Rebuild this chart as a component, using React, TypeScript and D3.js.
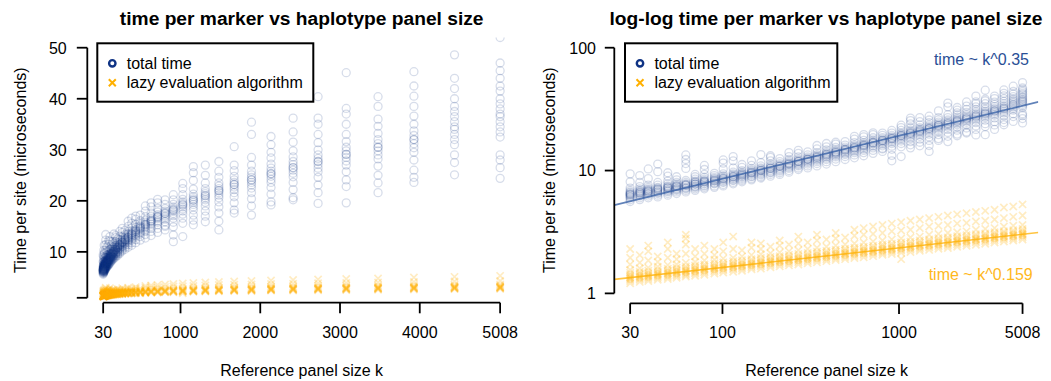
import React from "react";
import * as d3 from "d3";

// Reference panel sizes k (columns of replicate measurements)
const panelSizes = [
  30, 34, 38, 43, 49, 55, 62, 70, 79, 90, 101, 115, 129, 146, 165, 187, 211, 238, 269, 304, 343, 388,
  438, 495, 559, 631, 713, 806, 910, 1028, 1161, 1311, 1481, 1673, 1890, 2135, 2412, 2725, 3078, 3477,
  3927, 4436, 5008,
];

// Total time per site (microseconds), replicates per panel size
const totalTime: number[][] = [
  [6.1, 6.2, 6.3, 6.4, 6.4, 6.5, 6.6, 6.7, 6.0, 5.8, 5.6, 6.9, 7.2, 8.1, 9.4],
  [6.3, 6.4, 6.5, 6.6, 6.6, 6.7, 6.8, 6.9, 6.2, 6.0, 5.8, 7.1, 7.4, 8.0, 9.1],
  [6.5, 6.6, 6.7, 6.8, 6.8, 6.9, 7.0, 7.1, 6.4, 6.2, 6.0, 7.3, 7.6, 8.6, 10.3],
  [6.6, 6.7, 6.8, 7.0, 7.0, 7.1, 7.2, 7.3, 6.5, 6.3, 6.1, 7.6, 8.0, 9.8, 11.3],
  [6.8, 6.9, 7.0, 7.2, 7.2, 7.3, 7.4, 7.5, 6.7, 6.5, 6.3, 7.8, 8.2, 9.0, 9.6],
  [7.0, 7.1, 7.2, 7.4, 7.4, 7.5, 7.6, 7.8, 6.9, 6.7, 6.5, 8.0, 8.4, 8.9],
  [7.2, 7.3, 7.5, 7.6, 7.6, 7.7, 7.8, 8.0, 7.1, 6.9, 6.7, 8.3, 10.4, 11.4, 12.3, 13.4],
  [7.4, 7.5, 7.7, 7.8, 7.8, 8.0, 8.1, 8.2, 7.3, 7.1, 6.9, 8.5, 8.9, 9.3],
  [7.6, 7.8, 7.9, 8.1, 8.1, 8.2, 8.3, 8.5, 7.5, 7.3, 7.1, 8.8, 9.3, 10.2, 11.0],
  [7.9, 8.0, 8.2, 8.3, 8.3, 8.5, 8.6, 8.8, 7.8, 7.5, 7.3, 9.1, 9.5],
  [8.1, 8.3, 8.4, 8.6, 8.6, 8.7, 8.9, 9.1, 8.0, 7.7, 7.5, 9.4, 10.3, 11.5, 12.2],
  [8.4, 8.6, 8.7, 8.9, 8.9, 9.0, 9.2, 9.4, 8.3, 8.0, 7.8, 9.7, 10.5, 12.0, 13.0],
  [8.7, 8.9, 9.0, 9.2, 9.2, 9.4, 9.5, 9.7, 8.5, 8.3, 8.1, 10.0, 10.6, 11.2],
  [9.0, 9.2, 9.4, 9.6, 9.6, 9.7, 9.9, 10.1, 8.9, 8.6, 8.4, 10.4, 11.0, 12.0],
  [9.4, 9.6, 9.8, 10.0, 10.0, 10.1, 10.3, 10.5, 9.2, 8.9, 8.7, 10.9, 11.6, 13.5],
  [9.7, 9.9, 10.1, 10.4, 10.4, 10.5, 10.7, 10.9, 9.6, 9.3, 9.0, 11.3, 12.0, 12.8, 13.2],
  [10.1, 10.3, 10.5, 10.8, 10.8, 10.9, 11.1, 11.4, 9.9, 9.6, 9.3, 11.8, 12.5],
  [10.6, 10.8, 11.0, 11.3, 11.3, 11.4, 11.6, 11.9, 10.4, 10.0, 9.7, 12.3, 13.0, 14.0],
  [11.1, 11.3, 11.5, 11.8, 11.8, 11.9, 12.1, 12.4, 10.9, 10.5, 10.2, 12.9, 13.8, 14.6],
  [11.6, 11.8, 12.0, 12.3, 12.3, 12.4, 12.6, 12.9, 11.3, 10.9, 10.5, 13.4, 14.2],
  [12.1, 12.3, 12.5, 12.8, 12.8, 13.0, 13.2, 13.5, 11.8, 11.4, 10.9, 14.0, 15.0, 16.0],
  [12.6, 12.9, 13.1, 13.4, 13.4, 13.6, 13.8, 14.1, 12.3, 11.8, 11.3, 14.7, 15.6, 16.6],
  [13.2, 13.5, 13.7, 14.0, 14.0, 14.2, 14.4, 14.8, 12.9, 12.4, 11.8, 15.4, 16.4, 17.0],
  [13.8, 14.1, 14.4, 14.7, 14.7, 14.9, 15.1, 15.5, 13.5, 13.0, 12.3, 16.1, 17.2],
  [14.4, 14.7, 15.0, 15.3, 15.3, 15.5, 15.8, 16.2, 14.0, 13.4, 12.7, 16.9, 18.0, 19.0],
  [15.0, 15.4, 15.7, 16.0, 16.0, 16.2, 16.5, 16.9, 14.6, 14.0, 13.2, 17.6, 18.8, 19.6],
  [15.8, 16.1, 16.5, 16.8, 16.8, 17.0, 17.3, 17.8, 15.3, 14.6, 13.8, 18.5, 19.6, 20.3],
  [16.4, 16.8, 17.1, 17.5, 17.5, 17.7, 18.0, 18.5, 15.9, 15.2, 14.3, 19.3, 20.2, 15.0],
  [17.1, 17.5, 17.9, 18.2, 18.2, 18.5, 18.8, 19.3, 16.6, 15.8, 14.9, 20.2, 21.2, 12.0, 13.3],
  [18.0, 18.4, 18.8, 19.2, 19.2, 19.5, 19.8, 20.3, 17.4, 16.6, 15.6, 21.2, 22.4, 23.4, 13.0],
  [18.8, 19.3, 19.7, 20.1, 20.1, 20.4, 20.8, 21.3, 18.2, 17.2, 16.2, 22.3, 24.0, 25.5, 26.7, 15.3],
  [19.7, 20.2, 20.6, 21.0, 21.0, 21.4, 21.8, 22.4, 19.0, 18.0, 17.0, 23.5, 25.0, 27.0, 15.9],
  [20.6, 21.1, 21.6, 22.0, 22.0, 22.4, 22.9, 23.5, 19.8, 18.8, 17.6, 24.6, 25.8, 27.7, 14.3, 16.0],
  [21.6, 22.2, 22.7, 23.2, 23.2, 23.6, 24.1, 24.8, 20.8, 19.6, 18.2, 25.9, 27.0, 30.6, 17.6],
  [22.5, 23.1, 23.6, 24.1, 24.1, 24.6, 25.1, 25.8, 21.6, 20.4, 19.0, 27.0, 28.5, 33.0, 35.4, 17.2],
  [23.6, 24.2, 24.8, 25.3, 25.3, 25.8, 26.4, 27.2, 22.6, 21.3, 19.8, 28.4, 29.5, 31.0, 32.6, 19.2],
  [24.7, 25.4, 26.0, 26.5, 26.5, 27.1, 27.7, 28.6, 23.6, 22.2, 20.6, 29.8, 31.5, 33.5, 36.2, 20.2],
  [25.7, 26.4, 27.1, 27.7, 27.7, 28.3, 29.0, 30.0, 24.6, 23.1, 21.6, 31.4, 33.0, 35.0, 36.2, 40.4, 19.5],
  [27.0, 27.8, 28.5, 29.1, 29.1, 29.8, 30.5, 31.6, 25.7, 24.1, 22.8, 33.0, 35.0, 37.0, 38.1, 45.1, 19.6],
  [28.2, 29.0, 29.8, 30.5, 30.5, 31.2, 32.0, 33.2, 26.8, 25.0, 23.5, 34.6, 36.0, 38.5, 40.4, 21.6],
  [29.5, 30.4, 31.2, 32.0, 32.0, 32.8, 33.7, 35.0, 28.0, 26.0, 24.6, 36.6, 38.5, 40.5, 42.5, 45.3, 23.6],
  [31.0, 32.0, 33.0, 34.0, 34.5, 35.5, 36.5, 37.5, 38.5, 40.0, 29.0, 27.5, 25.1, 42.0, 44.0, 48.6],
  [32.5, 33.5, 34.5, 35.5, 36.5, 37.0, 38.0, 39.0, 40.0, 41.5, 42.5, 29.0, 28.0, 26.5, 24.4, 44.0, 45.5, 47.0, 52.0],
];

// Lazy evaluation algorithm time per site (microseconds)
const lazyTime: number[][] = [
  [1.21, 1.26, 1.3, 1.33, 1.35, 1.38, 1.42, 1.47, 1.55, 1.72, 1.95, 2.3],
  [1.24, 1.29, 1.33, 1.36, 1.38, 1.41, 1.45, 1.5, 1.6, 1.78, 2.05],
  [1.26, 1.31, 1.35, 1.38, 1.4, 1.43, 1.47, 1.53, 1.62, 1.85, 2.2, 2.45],
  [1.29, 1.34, 1.38, 1.41, 1.43, 1.46, 1.5, 1.56, 1.65, 1.8, 2.0],
  [1.31, 1.36, 1.4, 1.44, 1.46, 1.49, 1.53, 1.59, 1.7, 1.95, 2.3, 2.6],
  [1.34, 1.39, 1.43, 1.47, 1.49, 1.52, 1.56, 1.62, 1.72, 1.9, 2.1],
  [1.37, 1.42, 1.46, 1.5, 1.52, 1.55, 1.6, 1.66, 1.78, 2.1, 2.5, 2.8, 3.0],
  [1.39, 1.45, 1.49, 1.53, 1.55, 1.58, 1.63, 1.69, 1.8, 2.0, 2.3],
  [1.42, 1.48, 1.52, 1.56, 1.58, 1.61, 1.66, 1.72, 1.85, 2.1, 2.45],
  [1.45, 1.51, 1.55, 1.59, 1.61, 1.64, 1.69, 1.76, 1.88, 2.05, 2.3],
  [1.48, 1.54, 1.58, 1.62, 1.64, 1.68, 1.72, 1.79, 1.92, 2.2, 2.6],
  [1.5, 1.57, 1.61, 1.65, 1.67, 1.71, 1.76, 1.83, 1.95, 2.3, 2.9],
  [1.53, 1.59, 1.64, 1.68, 1.7, 1.74, 1.79, 1.86, 2.0, 2.25],
  [1.57, 1.63, 1.68, 1.72, 1.74, 1.78, 1.83, 1.9, 2.05, 2.35, 2.6],
  [1.59, 1.66, 1.71, 1.75, 1.77, 1.81, 1.86, 1.94, 2.08, 2.3, 2.55],
  [1.63, 1.7, 1.75, 1.79, 1.81, 1.85, 1.9, 1.98, 2.12, 2.4],
  [1.66, 1.73, 1.78, 1.82, 1.84, 1.88, 1.94, 2.01, 2.15, 2.45, 2.7],
  [1.69, 1.76, 1.81, 1.86, 1.88, 1.92, 1.98, 2.06, 2.2, 2.5],
  [1.72, 1.79, 1.84, 1.89, 1.91, 1.95, 2.01, 2.09, 2.25, 2.55, 2.9],
  [1.76, 1.83, 1.88, 1.93, 1.95, 2.0, 2.05, 2.13, 2.3, 2.6],
  [1.79, 1.87, 1.92, 1.97, 1.99, 2.04, 2.1, 2.18, 2.35, 2.7, 3.0],
  [1.83, 1.9, 1.96, 2.01, 2.03, 2.08, 2.14, 2.22, 2.4, 2.75],
  [1.87, 1.94, 2.0, 2.05, 2.07, 2.12, 2.18, 2.27, 2.45, 2.8, 3.1],
  [1.9, 1.98, 2.04, 2.09, 2.11, 2.16, 2.23, 2.31, 2.5, 2.85],
  [1.94, 2.02, 2.08, 2.13, 2.15, 2.2, 2.27, 2.35, 2.55, 2.95, 3.3],
  [1.97, 2.06, 2.12, 2.17, 2.19, 2.25, 2.31, 2.4, 2.6, 3.0, 3.4],
  [2.01, 2.1, 2.16, 2.21, 2.23, 2.29, 2.35, 2.44, 2.65, 3.05, 3.5],
  [2.06, 2.14, 2.2, 2.26, 2.28, 2.34, 2.41, 2.5, 2.7, 3.1, 3.6],
  [2.09, 2.18, 2.24, 2.3, 2.32, 2.38, 2.45, 2.54, 2.75, 3.2, 3.7],
  [2.14, 2.23, 2.29, 2.35, 2.37, 2.43, 2.5, 2.6, 2.8, 3.25, 3.8, 1.9],
  [2.17, 2.27, 2.33, 2.39, 2.41, 2.47, 2.54, 2.64, 2.85, 3.3, 3.9],
  [2.22, 2.31, 2.38, 2.44, 2.46, 2.52, 2.6, 2.7, 2.9, 3.4, 4.0],
  [2.26, 2.36, 2.43, 2.49, 2.51, 2.58, 2.65, 2.75, 3.0, 3.5, 4.1],
  [2.31, 2.41, 2.48, 2.54, 2.56, 2.63, 2.7, 2.81, 3.05, 3.55, 4.2],
  [2.34, 2.44, 2.52, 2.58, 2.6, 2.67, 2.75, 2.85, 3.1, 3.6, 4.3],
  [2.4, 2.5, 2.58, 2.64, 2.66, 2.73, 2.81, 2.92, 3.15, 3.7, 4.4],
  [2.44, 2.55, 2.62, 2.69, 2.71, 2.78, 2.86, 2.97, 3.2, 3.75, 4.5],
  [2.49, 2.6, 2.67, 2.74, 2.76, 2.83, 2.92, 3.03, 3.3, 3.85, 4.6],
  [2.53, 2.64, 2.72, 2.79, 2.81, 2.89, 2.97, 3.08, 3.35, 3.9, 4.7],
  [2.59, 2.7, 2.78, 2.85, 2.87, 2.95, 3.03, 3.15, 3.4, 4.0, 4.8],
  [2.64, 2.76, 2.84, 2.91, 2.93, 3.01, 3.1, 3.21, 3.5, 4.1, 5.0],
  [2.69, 2.8, 2.89, 2.96, 2.98, 3.06, 3.15, 3.27, 3.55, 4.2, 5.1],
  [2.74, 2.86, 2.95, 3.02, 3.04, 3.12, 3.21, 3.34, 3.6, 4.3, 5.3],
];

// Fitted log10-log10 regressions shown on the right panel
const totalFit = { intercept: 0.233, slope: 0.35 };
const lazyFit = { intercept: -0.1067, slope: 0.159 };

const xTicksLinear = [30, 1000, 2000, 3000, 4000, 5008];
const yTicksLinear = [1, 10, 20, 30, 40, 50];
const yLabelsLinear = ["", "10", "20", "30", "40", "50"];
const xTicksLog = [30, 100, 1000, 5008];
const yTicksLog = [1, 10, 100];

const titles = ["time per marker vs haplotype panel size", "log-log time per marker vs haplotype panel size"];
const xLabel = "Reference panel size k";
const yLabel = "Time per site (microseconds)";
const legendLabels = ["total time", "lazy evaluation algorithm"];
const fitLabels = ["time ~ k^0.35", "time ~ k^0.159"];

const BLUE = "#0f3384";
const ORANGE = "#ffb000";
const FONT = "'Liberation Sans', Arial, Helvetica, sans-serif";

type Sc = (v: number) => number;

function Points({ xs, ys }: { xs: Sc; ys: Sc }) {
  const circles: React.ReactNode[] = [];
  const crosses: React.ReactNode[] = [];
  panelSizes.forEach((k, i) => {
    totalTime[i].forEach((v, j) => {
      circles.push(
        <circle key={`c${i}-${j}`} cx={xs(k)} cy={ys(v)} r={4} fill="none" stroke={BLUE} strokeOpacity={0.17} strokeWidth={1.3} />
      );
    });
    lazyTime[i].forEach((v, j) => {
      const cx = xs(k);
      const cy = ys(v);
      const h = 3.6;
      crosses.push(
        <path key={`x${i}-${j}`} d={`M${cx - h},${cy - h}L${cx + h},${cy + h}M${cx - h},${cy + h}L${cx + h},${cy - h}`} stroke={ORANGE} strokeOpacity={0.24} strokeWidth={1.7} fill="none" />
      );
    });
  });
  return (
    <g>
      {circles}
      {crosses}
    </g>
  );
}

function Legend({ x, y, w }: { x: number; y: number; w: number }) {
  return (
    <g>
      <rect x={x} y={y} width={w} height={58.4} fill="none" stroke="#000" strokeWidth={2} />
      <circle cx={x + 15} cy={y + 20} r={3.2} fill="none" stroke={BLUE} strokeWidth={2.4} />
      <path d={`M${x + 11.5},${y + 35.9}L${x + 18.5},${y + 42.9}M${x + 11.5},${y + 42.9}L${x + 18.5},${y + 35.9}`} stroke={ORANGE} strokeWidth={2} />
      <text x={x + 29.4} y={y + 25.8} fontSize={16} fontFamily={FONT}>{legendLabels[0]}</text>
      <text x={x + 29.4} y={y + 45} fontSize={16} fontFamily={FONT}>{legendLabels[1]}</text>
    </g>
  );
}

export default function App() {
  const top = 37.5;
  const bottom = 302.9;

  // Left panel (linear)
  const xL = d3.scaleLinear().domain([-169, 5207]).range([87.3, 516]);
  const yL = d3.scaleLinear().domain([0, 52]).range([bottom, top]);
  // Right panel (log-log)
  const xR = d3.scaleLog().domain([24.4, 6150]).range([614.3, 1038.3]);
  const yR = d3.scaleLog().domain([0.832, 120.2]).range([303.2, 37.9]);

  const fitLine = (fit: { intercept: number; slope: number }) => {
    const [k0, k1] = xR.domain();
    const pts: [number, number][] = [k0, k1].map((k) => [xR(k), yR(Math.pow(10, fit.intercept + fit.slope * Math.log10(k)))]);
    return d3.line()(pts) || "";
  };

  const axisStroke = 1.8;

  return (
    <svg width={1051} height={381} style={{ position: "absolute", left: 0, top: 0, background: "#fff" }} fontFamily={FONT}>
      <defs>
        <clipPath id="clipL">
          <rect x={87.3} y={top} width={516 - 87.3} height={bottom - top} />
        </clipPath>
        <clipPath id="clipR">
          <rect x={614.3} y={37.9} width={1038.3 - 614.3} height={303.2 - 37.9} />
        </clipPath>
      </defs>
      <rect width={1051} height={381} fill="#fff" />

      {/* Left panel */}
      <text x={301.7} y={24.5} textAnchor="middle" fontSize={19.2} fontWeight="bold">{titles[0]}</text>
      <g clipPath="url(#clipL)">
        <Points xs={xL} ys={yL} />
      </g>
      <Legend x={97.3} y={43.3} w={216} />
      <line x1={87.3} x2={87.3} y1={yL(1)} y2={yL(50)} stroke="#000" strokeWidth={axisStroke} />
      {yTicksLinear.map((t, i) => (
        <g key={`yl${t}`}>
          <line x1={76.8} x2={87.3} y1={yL(t)} y2={yL(t)} stroke="#000" strokeWidth={axisStroke} />
          <text x={66.7} y={yL(t) + 5.8} textAnchor="end" fontSize={16}>{yLabelsLinear[i]}</text>
        </g>
      ))}
      <line x1={xL(30)} x2={xL(5008)} y1={302.7} y2={302.7} stroke="#000" strokeWidth={axisStroke} />
      {xTicksLinear.map((t) => (
        <g key={`xl${t}`}>
          <line x1={xL(t)} x2={xL(t)} y1={302.7} y2={313.3} stroke="#000" strokeWidth={axisStroke} />
          <text x={xL(t)} y={338.3} textAnchor="middle" fontSize={16}>{t}</text>
        </g>
      ))}
      <text x={301.7} y={375.5} textAnchor="middle" fontSize={16}>{xLabel}</text>
      <text transform={`translate(26,170.2) rotate(-90)`} textAnchor="middle" fontSize={16}>{yLabel}</text>

      {/* Right panel */}
      <text x={826} y={24.5} textAnchor="middle" fontSize={19.2} fontWeight="bold">{titles[1]}</text>
      <g clipPath="url(#clipR)">
        <Points xs={xR} ys={yR} />
        <path d={fitLine(totalFit)} stroke="#3a63a8" strokeOpacity={0.8} strokeWidth={1.6} fill="none" />
        <path d={fitLine(lazyFit)} stroke={ORANGE} strokeOpacity={0.75} strokeWidth={1.6} fill="none" />
      </g>
      <Legend x={625} y={43.3} w={212.3} />
      <line x1={614.3} x2={614.3} y1={yR(1)} y2={yR(100)} stroke="#000" strokeWidth={axisStroke} />
      {yTicksLog.map((t) => (
        <g key={`yr${t}`}>
          <line x1={604.8} x2={614.3} y1={yR(t)} y2={yR(t)} stroke="#000" strokeWidth={axisStroke} />
          <text x={596} y={yR(t) + 5.8} textAnchor="end" fontSize={16}>{t}</text>
        </g>
      ))}
      <line x1={xR(30)} x2={xR(5008)} y1={303.3} y2={303.3} stroke="#000" strokeWidth={axisStroke} />
      {xTicksLog.map((t) => (
        <g key={`xr${t}`}>
          <line x1={xR(t)} x2={xR(t)} y1={303.3} y2={313.9} stroke="#000" strokeWidth={axisStroke} />
          <text x={xR(t)} y={338.3} textAnchor="middle" fontSize={16}>{t}</text>
        </g>
      ))}
      <text x={826.7} y={375.5} textAnchor="middle" fontSize={16}>{xLabel}</text>
      <text transform={`translate(554.5,170.2) rotate(-90)`} textAnchor="middle" fontSize={16}>{yLabel}</text>
      <text x={1029} y={65} textAnchor="end" fontSize={16} fill="#2a4f96">{fitLabels[0]}</text>
      <text x={1032.7} y={280} textAnchor="end" fontSize={16} fill="#ffb81c">{fitLabels[1]}</text>
    </svg>
  );
}
